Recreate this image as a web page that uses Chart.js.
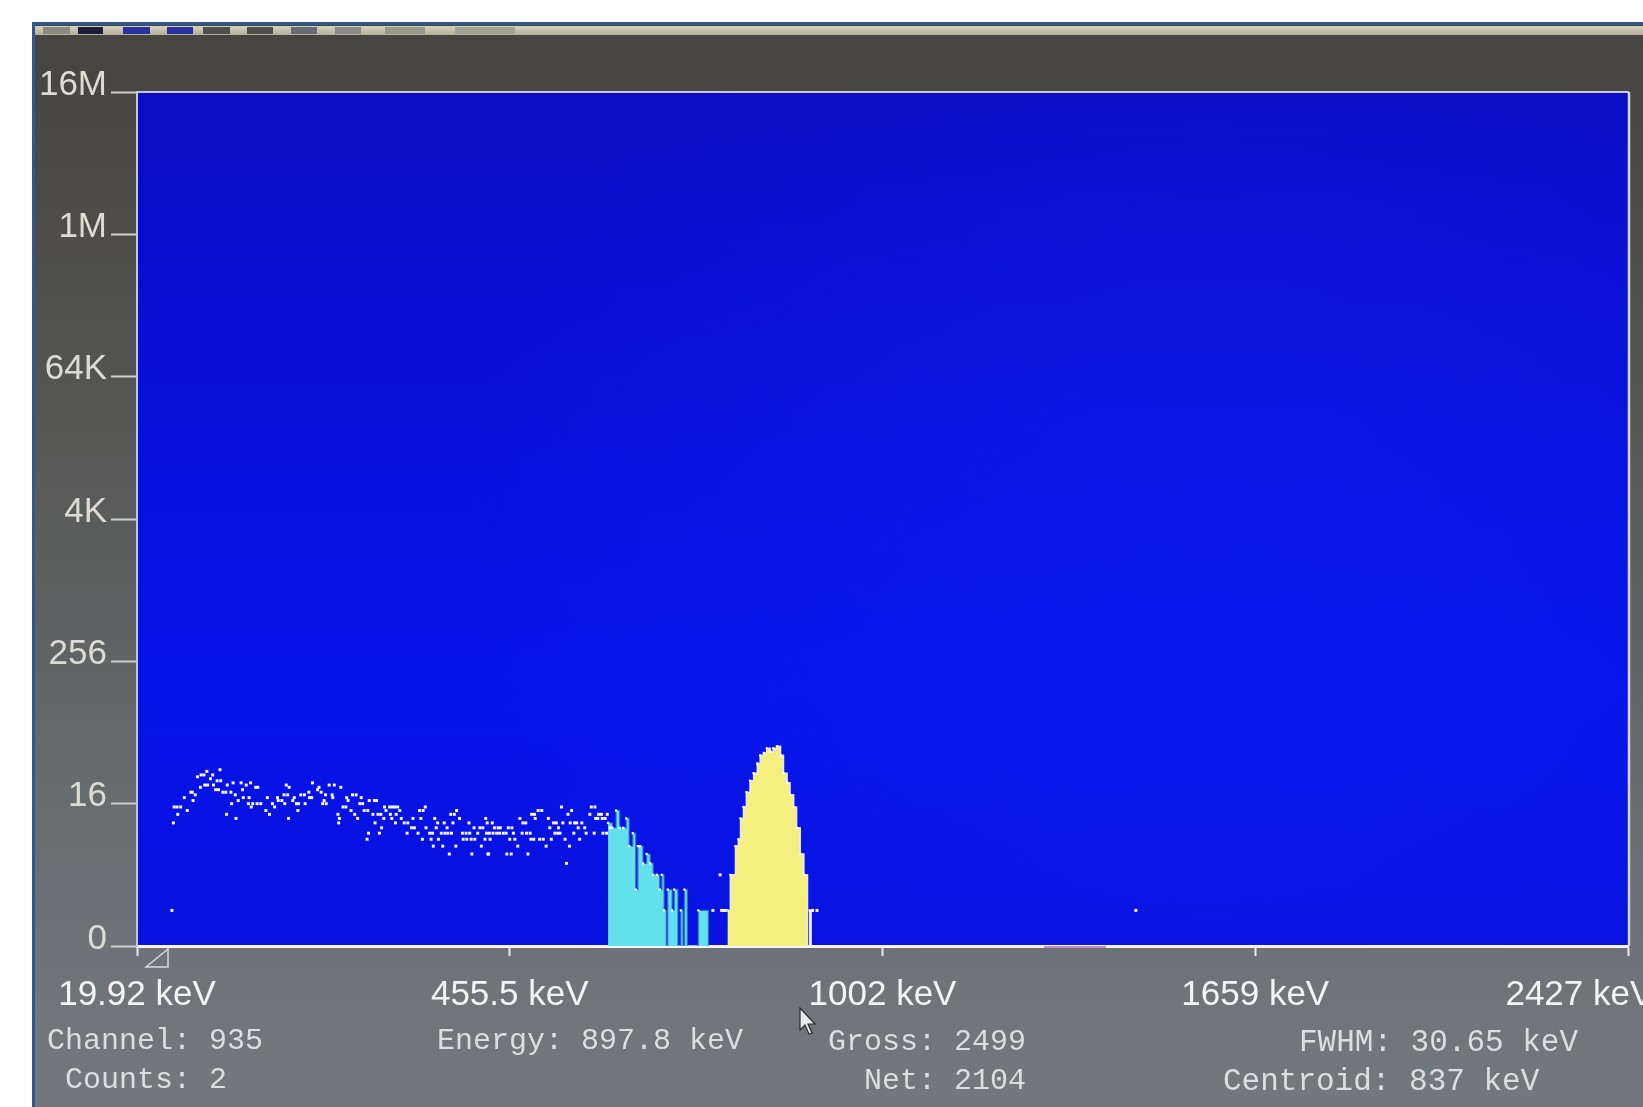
<!DOCTYPE html>
<html>
<head>
<meta charset="utf-8">
<title>Spectrum</title>
<script src="https://cdn.jsdelivr.net/npm/chart.js@4.4.1/dist/chart.umd.min.js"></script>
<style>
  html, body { margin: 0; padding: 0; background: #ffffff; overflow: hidden; width: 1643px; height: 1107px; }
  #screen {
    position: absolute; left: 32px; top: 22px; width: 1700px; height: 1100px;
    border-left: 3px solid #2d5a8c; border-top: 3px solid #2d5a8c;
    background: linear-gradient(180deg, #46443f 0%, #4b4a46 14%, #595a59 42%, #686d70 72%, #737a7e 100%);
  }
  #menubar { position: absolute; left: 0; top: 1px; width: 1700px; height: 9px;
    background: linear-gradient(180deg, #d6d2be, #b2ae9a); }
  .seg { position: absolute; top: 1px; height: 7px; }
  #wrap { position: absolute; left: 0; top: 0; width: 1800px; height: 1107px; }
  .status { position: absolute; font-family: "Liberation Mono", "DejaVu Sans Mono", monospace;
    font-size: 30px; line-height: 30px; color: #dcdedf; white-space: pre; }
  .status.wide { font-size: 31px; line-height: 31px; }
  #pointer { position: absolute; left: 799px; top: 1007px; }
</style>
</head>
<body>
<div id="screen">
  <div id="menubar">
    <div class="seg" style="left:8px;width:27px;background:#8c8a80"></div>
    <div class="seg" style="left:43px;width:25px;background:#1c1e3a"></div>
    <div class="seg" style="left:88px;width:27px;background:#2a30a0"></div>
    <div class="seg" style="left:132px;width:26px;background:#2a30a0"></div>
    <div class="seg" style="left:168px;width:27px;background:#4f4e48"></div>
    <div class="seg" style="left:212px;width:26px;background:#4f4e48"></div>
    <div class="seg" style="left:256px;width:26px;background:#6a6a74"></div>
    <div class="seg" style="left:300px;width:26px;background:#8a8a88"></div>
    <div class="seg" style="left:350px;width:40px;background:#9a988c"></div>
    <div class="seg" style="left:420px;width:60px;background:#a4a296"></div>
  </div>
</div>
<div id="wrap"><canvas id="spectrum"></canvas></div>

<div class="status" style="left:47px;top:1026px">Channel: 935</div>
<div class="status" style="left:65px;top:1065px">Counts: 2</div>
<div class="status" style="left:437px;top:1026px">Energy: 897.8 keV</div>
<div class="status" style="left:828px;top:1027px">Gross: 2499</div>
<div class="status" style="left:864px;top:1066px">Net: 2104</div>
<div class="status wide" style="left:1299px;top:1027px">FWHM: 30.65 keV</div>
<div class="status wide" style="left:1223px;top:1066px">Centroid: 837 keV</div>

<svg id="pointer" width="20" height="30" viewBox="0 0 20 30">
  <path d="M1,1 L1,23 L6,18 L10,27 L13,26 L9,17 L16,17 Z" fill="#e6e8ea" stroke="#2a2c30" stroke-width="1.2"/>
</svg>

<script>
// Axis ticks: counts on a base-16 log axis, energies at every 512 channels
const yTickValues = [1, 16, 256, 4096, 65536, 1048576, 16777216];
const yTickLabels = ['0', '16', '256', '4K', '64K', '1M', '16M'];
const xTickChannels = [0, 512, 1024, 1536, 2048];
const xTickLabels = ['19.92 keV', '455.5 keV', '1002 keV', '1659 keV', '2427 keV'];

// Background continuum, one dot per plotted channel
const dotChannels = [
  48, 50, 51, 55, 56, 60, 65, 69, 74, 76,
  77, 80, 83, 87, 88, 92, 93, 96, 97, 101,
  104, 105, 108, 110, 112, 114, 115, 118, 122, 123,
  124, 129, 130, 132, 135, 136, 139, 143, 145, 146,
  150, 153, 154, 156, 157, 159, 163, 165, 166, 170,
  177, 179, 182, 186, 189, 193, 194, 199, 202, 203,
  205, 207, 208, 209, 214, 216, 219, 221, 222, 225,
  230, 231, 236, 237, 240, 241, 248, 250, 253, 255,
  257, 259, 260, 264, 268, 269, 271, 276, 277, 278,
  280, 283, 287, 288, 290, 294, 296, 299, 301, 303,
  306, 308, 310, 312, 316, 317, 318, 319, 324, 326,
  327, 329, 331, 333, 335, 336, 339, 340, 342, 347,
  348, 350, 351, 354, 355, 356, 358, 361, 363, 367,
  371, 372, 377, 379, 381, 386, 388, 390, 392, 393,
  396, 397, 402, 404, 406, 407, 409, 411, 413, 414,
  418, 420, 422, 423, 426, 427, 429, 431, 432, 434,
  436, 438, 439, 443, 447, 448, 452, 453, 456, 457,
  459, 460, 463, 464, 468, 471, 473, 475, 478, 479,
  480, 481, 482, 483, 484, 485, 488, 489, 491, 494,
  496, 498, 499, 503, 507, 508, 510, 512, 514, 515,
  517, 519, 523, 526, 529, 530, 534, 535, 537, 540,
  541, 542, 545, 546, 547, 551, 553, 556, 558, 562,
  565, 567, 569, 572, 574, 576, 578, 579, 581, 583,
  585, 588, 590, 592, 594, 595, 597, 600, 601, 604,
  606, 608, 611, 615, 617, 622, 624, 628, 629, 630,
  633, 634, 638, 639, 640, 643, 645, 646, 650, 791,
  801, 803, 806, 808, 928, 934, 1372
];
const dotCounts = [
  2, 11, 15, 15, 13, 15, 18, 14, 20, 20,
  17, 19, 27, 22, 28, 28, 23, 30, 23, 26,
  28, 23, 21, 25, 21, 31, 25, 20, 20, 13,
  23, 20, 16, 24, 19, 12, 17, 24, 21, 18,
  23, 16, 18, 24, 15, 16, 22, 16, 22, 16,
  14, 18, 13, 16, 15, 18, 17, 17, 19, 16,
  23, 19, 12, 22, 17, 18, 16, 14, 16, 19,
  19, 16, 20, 18, 18, 24, 21, 22, 20, 16,
  17, 19, 16, 23, 19, 18, 23, 13, 11, 12,
  22, 15, 15, 18, 17, 14, 19, 13, 19, 12,
  16, 18, 16, 14, 8, 14, 9, 17, 13, 17,
  11, 17, 13, 9, 13, 10, 12, 15, 14, 15,
  13, 12, 15, 15, 11, 13, 15, 14, 12, 11,
  9, 11, 10, 12, 10, 9, 14, 12, 8, 14,
  15, 10, 9, 8, 9, 7, 12, 10, 11, 8,
  9, 7, 11, 9, 10, 9, 6, 13, 9, 11,
  13, 7, 14, 12, 9, 8, 9, 8, 11, 9,
  8, 6, 10, 8, 9, 10, 7, 10, 8, 12,
  9, 11, 6, 6, 9, 8, 11, 9, 10, 9,
  10, 9, 10, 9, 9, 6, 10, 8, 6, 10,
  9, 8, 7, 12, 9, 11, 11, 9, 6, 9,
  8, 13, 8, 13, 12, 14, 8, 14, 8, 7,
  12, 10, 8, 11, 9, 11, 9, 10, 9, 15,
  11, 8, 5, 13, 7, 11, 14, 9, 11, 11,
  10, 8, 11, 10, 9, 13, 15, 9, 15, 12,
  12, 13, 13, 12, 9, 12, 9, 13, 10, 2,
  4, 2, 2, 2, 2, 2, 2
];

// Low-energy region of interest: step start channel and count held until the next step
const roiLowChannels = [647, 653, 658, 663, 668, 672, 676, 681, 685, 688, 691, 695, 700, 705, 709,
  714, 718, 721, 724, 727, 729, 735, 738, 743, 747, 750, 752, 756, 771, 785];
const roiLowCounts = [11, 10, 14, 10, 10, 12, 7, 9, 3, 7, 7, 5, 6, 5, 4,
  4, 3, 4, 2, 0, 3, 2, 3, 0, 2, 0, 3, 0, 2, 0];

// Peak region of interest
const peakChannels = [811, 815, 822, 826, 829, 833, 837, 842, 847, 852, 856, 861, 865, 870,
  874, 879, 884, 888, 893, 897, 902, 906, 911, 916, 921, 924, 926];
const peakCounts = [2, 4, 7, 8, 12, 15, 20, 25, 29, 35, 41, 43, 47, 44,
  47, 49, 41, 29, 24, 19, 15, 10, 6, 4, 0, 2, 0];

// Channel span of the marker on the energy axis
const axisMarkerChannels = [1246, 1331];

// Empty channels sit on the axis floor (the "0" line of the log axis)
const axisFloor = yTickValues[0];
const toPoints = (xs, ys) => xs.map((x, i) => ({ x: x, y: Math.max(ys[i], axisFloor) }));
const topMarker = c => (c.raw && c.raw.y > axisFloor ? 1.6 : 0);

const plotFrame = {
  id: 'plotFrame',
  beforeDraw(chart) {
    const { ctx, chartArea: a } = chart;
    ctx.save();
    const g = ctx.createLinearGradient(0, a.top, 0, a.bottom);
    g.addColorStop(0, '#0c0cc2');
    g.addColorStop(0.3, '#0810d6');
    g.addColorStop(0.7, '#0613e8');
    g.addColorStop(1, '#0812de');
    ctx.fillStyle = g;
    ctx.fillRect(a.left, a.top, a.right - a.left, a.bottom - a.top);
    const cx = a.left + (a.right - a.left) * 0.72, cy = a.top + (a.bottom - a.top) * 0.55;
    const r = ctx.createRadialGradient(cx, cy, 10, cx, cy, (a.right - a.left) * 0.5);
    r.addColorStop(0, 'rgba(20,40,255,0.28)');
    r.addColorStop(1, 'rgba(20,40,255,0)');
    ctx.fillStyle = r;
    ctx.fillRect(a.left, a.top, a.right - a.left, a.bottom - a.top);
    ctx.restore();
  },
  afterDraw(chart) {
    const { ctx, chartArea: a } = chart;
    const xs = chart.scales.x;
    ctx.save();
    // top and right edges of the plotting field
    ctx.strokeStyle = '#c8cade';
    ctx.lineWidth = 2;
    ctx.beginPath();
    ctx.moveTo(a.left, a.top);
    ctx.lineTo(a.right + 1, a.top);
    ctx.stroke();
    ctx.strokeStyle = '#d4d6ea';
    ctx.lineWidth = 2.5;
    ctx.beginPath();
    ctx.moveTo(a.right + 1, a.top);
    ctx.lineTo(a.right + 1, a.bottom);
    ctx.stroke();
    // marker span along the energy axis
    ctx.strokeStyle = '#c98fbf';
    ctx.lineWidth = 2;
    ctx.beginPath();
    ctx.moveTo(xs.getPixelForValue(axisMarkerChannels[0]), a.bottom + 1);
    ctx.lineTo(xs.getPixelForValue(axisMarkerChannels[1]), a.bottom + 1);
    ctx.stroke();
    // start-of-range triangle below the axis
    const x0 = xs.getPixelForValue(0);
    ctx.strokeStyle = '#d8dade';
    ctx.lineWidth = 1.5;
    ctx.beginPath();
    ctx.moveTo(x0 + 9, a.bottom + 21);
    ctx.lineTo(x0 + 31, a.bottom + 3);
    ctx.lineTo(x0 + 31, a.bottom + 21);
    ctx.closePath();
    ctx.stroke();
    ctx.restore();
  }
};

new Chart(document.getElementById('spectrum'), {
  type: 'scatter',
  data: {
    datasets: [
      {
        label: 'Counts',
        data: toPoints(dotChannels, dotCounts),
        pointStyle: 'rect',
        pointRadius: 2.1,
        pointBackgroundColor: '#f5f6ff',
        pointBorderWidth: 0,
        showLine: false
      },
      {
        type: 'line',
        label: 'Peak ROI',
        data: toPoints(peakChannels, peakCounts),
        stepped: true,
        fill: 'start',
        backgroundColor: '#f4ef7e',
        borderColor: 'rgba(236,236,232,0.95)',
        borderWidth: 1.5,
        pointStyle: 'rect',
        pointRadius: topMarker,
        pointBackgroundColor: '#ffffff',
        pointBorderWidth: 0
      },
      {
        type: 'line',
        label: 'Low ROI',
        data: toPoints(roiLowChannels, roiLowCounts),
        stepped: true,
        fill: 'start',
        backgroundColor: '#62e0ec',
        borderColor: 'rgba(40,110,210,0.85)',
        borderWidth: 1.2,
        pointStyle: 'rect',
        pointRadius: topMarker,
        pointBackgroundColor: '#ffffff',
        pointBorderWidth: 0
      }
    ]
  },
  options: {
    responsive: true,
    maintainAspectRatio: false,
    devicePixelRatio: 1,
    animation: false,
    events: [],
    layout: { padding: { left: 0, top: 92, right: 172, bottom: 0 } },
    plugins: { legend: { display: false }, tooltip: { enabled: false } },
    scales: {
      x: {
        type: 'linear',
        min: 0,
        max: 2048,
        z: 1,
        afterBuildTicks: s => { s.ticks = xTickChannels.map(v => ({ value: v })); },
        afterFit: s => { s.height = 161; },
        ticks: {
          autoSkip: false,
          maxRotation: 0,
          padding: 18,
          color: '#f4f4f4',
          font: { family: '"Liberation Sans", Arial, sans-serif', size: 35 },
          // the end label sits left of its tick, as the instrument draws it
          callback: (v, i) => (i === xTickLabels.length - 1 ? xTickLabels[i] + ' '.repeat(10) : xTickLabels[i])
        },
        grid: { drawOnChartArea: false, tickLength: 10, color: '#e8e8ee', tickWidth: 2 },
        border: { color: '#f6f6fa', width: 3 }
      },
      y: {
        type: 'logarithmic',
        min: 1,
        max: 16777216,
        afterBuildTicks: s => { s.ticks = yTickValues.map(v => ({ value: v })); },
        afterFit: s => { s.width = 137; },
        ticks: {
          autoSkip: false,
          padding: 4,
          labelOffset: -7,
          color: '#dcdcd4',
          font: { family: '"Liberation Sans", Arial, sans-serif', size: 35 },
          callback: (v, i) => yTickLabels[i]
        },
        grid: { drawOnChartArea: false, tickLength: 26, color: '#cfcfcc', tickWidth: 2 },
        border: { color: '#c6c9d8', width: 2 }
      }
    }
  },
  plugins: [plotFrame]
});
</script>
</body>
</html>
